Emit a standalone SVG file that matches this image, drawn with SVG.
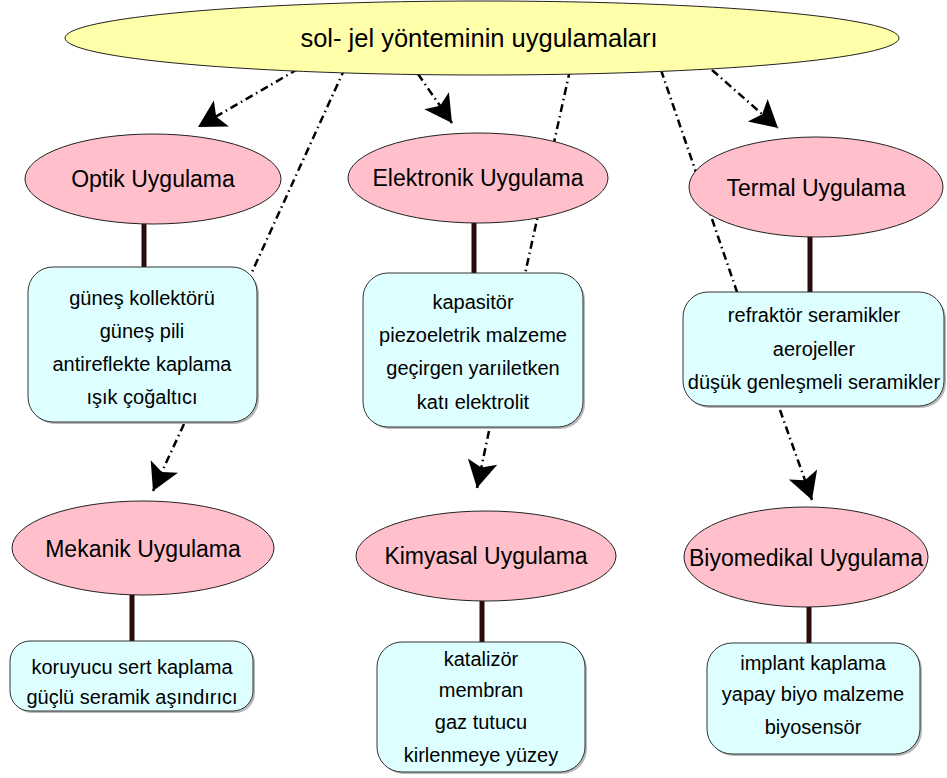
<svg xmlns="http://www.w3.org/2000/svg" width="947" height="778" viewBox="0 0 947 778">
<defs>
<marker id="ah" markerUnits="userSpaceOnUse" viewBox="-28 -16 29 32" refX="0" refY="0" markerWidth="29" markerHeight="32" orient="auto">
<path d="M0,0 L-27,-15 L-21,0 L-27,15 Z" fill="#000"/>
</marker>
</defs>
<style>
.lbl{font-family:"Liberation Sans",Arial,sans-serif;font-size:23px;fill:#000;text-anchor:middle}
.top{font-family:"Liberation Sans",Arial,sans-serif;font-size:25.5px;fill:#000;text-anchor:middle}
.bt{font-family:"Liberation Sans",Arial,sans-serif;font-size:20px;fill:#000;text-anchor:middle}
.pk{fill:#ffc0cb;stroke:#222;stroke-width:1}
.bx{fill:#ddffff;stroke:#333;stroke-width:1}
.sh{fill:#b8b8b8}
.dd{fill:none;stroke:#000;stroke-width:2.5;stroke-dasharray:8 4 1.5 4}
.vt{stroke:#2a0a0a;stroke-width:5}
</style>
<g id="connectors">
<line class="dd" x1="345" y1="68" x2="252" y2="272"/>
<line class="dd" x1="570" y1="70" x2="525" y2="274"/>
<line class="dd" x1="661" y1="70" x2="737" y2="292"/>
<line class="dd" x1="298" y1="69" x2="198" y2="127" marker-end="url(#ah)"/>
<line class="dd" x1="418" y1="74" x2="452" y2="123" marker-end="url(#ah)"/>
<line class="dd" x1="712" y1="70" x2="778" y2="128" marker-end="url(#ah)"/>
<line class="dd" x1="184" y1="424" x2="153" y2="491" marker-end="url(#ah)"/>
<line class="dd" x1="489" y1="431" x2="477" y2="488" marker-end="url(#ah)"/>
<line class="dd" x1="780" y1="410" x2="812" y2="500" marker-end="url(#ah)"/>
<line class="vt" x1="144" y1="224" x2="144" y2="267"/>
<line class="vt" x1="474" y1="222" x2="474" y2="273"/>
<line class="vt" x1="810" y1="236" x2="810" y2="292"/>
<line class="vt" x1="132" y1="594" x2="132" y2="641"/>
<line class="vt" x1="482" y1="600" x2="482" y2="642"/>
<line class="vt" x1="809" y1="607" x2="809" y2="643"/>
</g>
<g id="root">
<ellipse cx="482" cy="38" rx="417" ry="37" fill="#ffffaa" stroke="#222" stroke-width="1"/>
<text class="top" x="479" y="47">sol- jel yönteminin uygulamaları</text>
</g>
<g id="optik">
<ellipse class="pk" cx="153" cy="179" rx="128" ry="45"/>
<text class="lbl" x="153" y="187">Optik Uygulama</text>
</g>
<g id="elektronik">
<ellipse class="pk" cx="478" cy="178" rx="130" ry="45"/>
<text class="lbl" x="478" y="186">Elektronik Uygulama</text>
</g>
<g id="termal">
<ellipse class="pk" cx="816" cy="187" rx="127" ry="50"/>
<text class="lbl" x="816" y="196">Termal Uygulama</text>
</g>
<g id="mekanik">
<ellipse class="pk" cx="143" cy="548" rx="131" ry="47"/>
<text class="lbl" x="143" y="557">Mekanik Uygulama</text>
</g>
<g id="kimyasal">
<ellipse class="pk" cx="486" cy="556" rx="130" ry="45"/>
<text class="lbl" x="486" y="564">Kimyasal Uygulama</text>
</g>
<g id="biyomedikal">
<ellipse class="pk" cx="806" cy="557" rx="122" ry="50"/>
<text class="lbl" x="806" y="566">Biyomedikal Uygulama</text>
</g>
<g id="optik-box">
<rect class="sh" x="30" y="269" width="229" height="155" rx="25"/>
<rect class="bx" x="28" y="267" width="229" height="155" rx="25"/>
<text class="bt" x="142" y="305">güneş kollektörü</text>
<text class="bt" x="142" y="338">güneş pili</text>
<text class="bt" x="142" y="371">antireflekte kaplama</text>
<text class="bt" x="142" y="404">ışık çoğaltıcı</text>
</g>
<g id="elektronik-box">
<rect class="sh" x="365" y="275" width="220" height="154" rx="25"/>
<rect class="bx" x="363" y="273" width="220" height="154" rx="25"/>
<text class="bt" x="473" y="309">kapasitör</text>
<text class="bt" x="473" y="342">piezoeletrik malzeme</text>
<text class="bt" x="473" y="375">geçirgen yarıiletken</text>
<text class="bt" x="473" y="409">katı elektrolit</text>
</g>
<g id="termal-box">
<rect class="sh" x="685" y="294" width="261" height="114" rx="25"/>
<rect class="bx" x="683" y="292" width="261" height="114" rx="25"/>
<text class="bt" x="814" y="322">refraktör seramikler</text>
<text class="bt" x="814" y="356">aerojeller</text>
<text class="bt" x="814" y="389">düşük genleşmeli seramikler</text>
</g>
<g id="mekanik-box">
<rect class="sh" x="12" y="643" width="243" height="70" rx="20"/>
<rect class="bx" x="10" y="641" width="243" height="70" rx="20"/>
<text class="bt" x="132" y="674">koruyucu sert kaplama</text>
<text class="bt" x="132" y="704">güçlü seramik aşındırıcı</text>
</g>
<g id="kimyasal-box">
<rect class="sh" x="379" y="644" width="208" height="130" rx="25"/>
<rect class="bx" x="377" y="642" width="208" height="130" rx="25"/>
<text class="bt" x="481" y="666">katalizör</text>
<text class="bt" x="481" y="697">membran</text>
<text class="bt" x="481" y="729">gaz tutucu</text>
<text class="bt" x="481" y="762">kirlenmeye yüzey</text>
</g>
<g id="biyomedikal-box">
<rect class="sh" x="709" y="645" width="213" height="111" rx="25"/>
<rect class="bx" x="707" y="643" width="213" height="111" rx="25"/>
<text class="bt" x="813" y="670">implant kaplama</text>
<text class="bt" x="813" y="701">yapay biyo malzeme</text>
<text class="bt" x="813" y="734">biyosensör</text>
</g>
</svg>
